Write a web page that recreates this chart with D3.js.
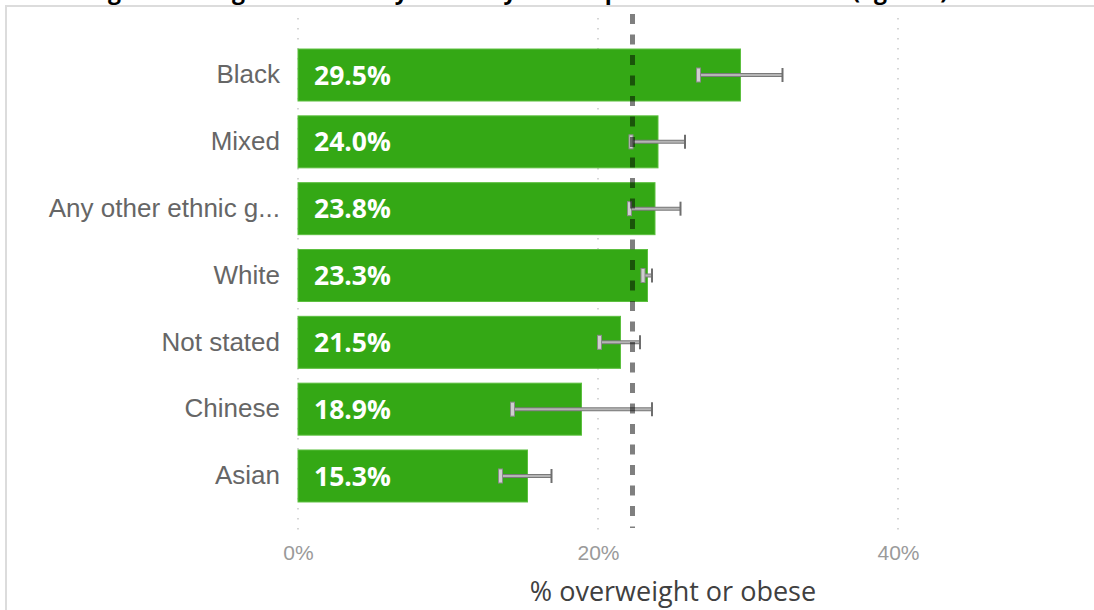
<!DOCTYPE html>
<html>
<head>
<meta charset="utf-8">
<script src="https://cdn.jsdelivr.net/npm/d3@7"></script>
<style>
  body { margin: 0; background: #fff; }
  svg { display: block; font-family: "Open Sans", "Noto Sans", sans-serif; }
</style>
</head>
<body>
<svg id="chart" width="1094" height="610"></svg>
<script>
const categories = ["Black", "Mixed", "Any other ethnic g...", "White", "Not stated", "Chinese", "Asian"];
const values = [29.5, 24.0, 23.8, 23.3, 21.5, 18.9, 15.3];
const lower = [26.7, 22.2, 22.1, 23.0, 20.1, 14.3, 13.5];
const upper = [32.3, 25.8, 25.5, 23.6, 22.8, 23.6, 16.9];
const xTicks = [0, 20, 40];
const average = 22.3;

const data = categories.map((c, i) => ({ cat: c, value: values[i], lo: lower[i], hi: upper[i] }));

const svg = d3.select("#chart");

// title, cut off by the top of the frame
svg.append("text")
  .attr("x", 5)
  .attr("y", -1)
  .attr("font-size", 23)
  .attr("font-weight", 700)
  .attr("fill", "#000")
  .text("Percentage overweight or obese by ethnicity in Reception school children (age 4-5)");

// frame
svg.append("rect")
  .attr("x", 6).attr("y", 6)
  .attr("width", 1100).attr("height", 620)
  .attr("fill", "none")
  .attr("stroke", "#dcdcdc")
  .attr("stroke-width", 2);

const x = d3.scaleLinear().domain([0, 50]).range([298, 1048]);
const y = d3.scaleBand()
  .domain(categories)
  .range([41.6, 509.4])
  .paddingInner(0.222)
  .paddingOuter(0.111);

// dotted gridlines
svg.append("g")
  .selectAll("line")
  .data(xTicks)
  .join("line")
  .attr("x1", (d) => x(d)).attr("x2", (d) => x(d))
  .attr("y1", 18).attr("y2", 536)
  .attr("stroke", "#c8c8c8")
  .attr("stroke-width", 1.5)
  .attr("stroke-dasharray", "1.5,8.5");

// x axis
const xAxis = (g) =>
  g.call(d3.axisBottom(x).tickValues(xTicks).tickFormat((d) => d + "%").tickSize(0).tickPadding(0))
    .call((g) => g.select(".domain").remove())
    .call((g) => g.selectAll("text")
      .attr("font-size", 21)
      .attr("fill", "#9a9a9a")
      .attr("font-family", null));
svg.append("g").attr("transform", "translate(0,545)").call(xAxis);

svg.append("text")
  .attr("x", x(25))
  .attr("y", 601)
  .attr("text-anchor", "middle")
  .attr("font-size", 27)
  .attr("fill", "#404040")
  .text("% overweight or obese");

// y axis labels
const yAxis = (g) =>
  g.call(d3.axisLeft(y).tickSize(0).tickPadding(18))
    .call((g) => g.select(".domain").remove())
    .call((g) => g.selectAll("text")
      .attr("font-size", 26)
      .attr("fill", "#666")
      .attr("font-family", null));
svg.append("g").attr("transform", `translate(${x(0)},0)`).call(yAxis);

// bars
svg.append("g")
  .selectAll("rect")
  .data(data)
  .join("rect")
  .attr("x", x(0))
  .attr("y", (d) => y(d.cat))
  .attr("width", (d) => x(d.value) - x(0))
  .attr("height", y.bandwidth())
  .attr("fill", "#34a815")
  .attr("stroke", "#5cbf3f")
  .attr("stroke-width", 1);

// bar value labels
svg.append("g")
  .selectAll("text")
  .data(data)
  .join("text")
  .attr("x", x(0) + 16)
  .attr("y", (d) => y(d.cat) + y.bandwidth() / 2)
  .attr("dy", "0.36em")
  .attr("font-size", 26.5)
  .attr("font-weight", 700)
  .attr("fill", "#fff")
  .text((d) => d.value.toFixed(1) + "%");

// error bars
const err = svg.append("g")
  .selectAll("g")
  .data(data)
  .join("g")
  .attr("transform", (d) => `translate(0,${y(d.cat) + y.bandwidth() / 2})`);

err.append("line")
  .attr("x1", (d) => x(d.lo)).attr("x2", (d) => x(d.hi))
  .attr("stroke", "#7a7a7a").attr("stroke-width", 4);
err.append("line")
  .attr("x1", (d) => x(d.lo)).attr("x2", (d) => x(d.hi))
  .attr("stroke", "#b5b5b5").attr("stroke-width", 2);
err.append("rect")
  .attr("x", (d) => x(d.lo) - 2).attr("y", -7)
  .attr("width", 4).attr("height", 14)
  .attr("fill", "#cfcfcf")
  .attr("stroke", "#8a8a8a").attr("stroke-width", 1);
err.append("line")
  .attr("x1", (d) => x(d.hi)).attr("x2", (d) => x(d.hi))
  .attr("y1", -7).attr("y2", 7)
  .attr("stroke", "#6e6e6e").attr("stroke-width", 2);

// average reference line
svg.append("line")
  .attr("x1", x(average)).attr("x2", x(average))
  .attr("y1", 14).attr("y2", 528)
  .attr("stroke", "#000")
  .attr("stroke-opacity", 0.5)
  .attr("stroke-width", 5)
  .attr("stroke-dasharray", "10,10.5");
</script>
</body>
</html>
